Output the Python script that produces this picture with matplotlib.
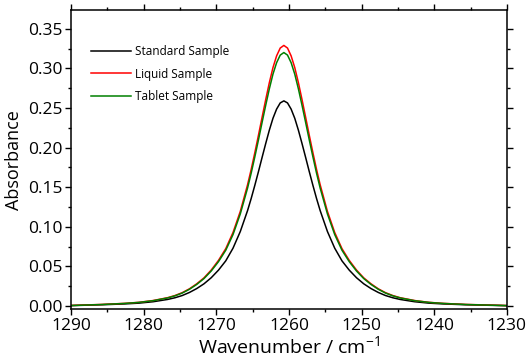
import numpy as np
import matplotlib
matplotlib.use('Agg')
import matplotlib.pyplot as plt
from matplotlib.ticker import MultipleLocator, FormatStrFormatter

plt.rcParams['font.family'] = ['Open Sans', 'DejaVu Sans']
plt.rcParams['mathtext.default'] = 'regular'

# wavenumber grid (cm^-1)
wavenumber = [1290.0, 1285.7, 1282.7, 1280.7, 1278.7, 1276.7, 1275.7, 1274.7,
              1273.7, 1272.7, 1271.7, 1270.7, 1269.7, 1268.7, 1267.7, 1266.7,
              1265.7, 1265.2, 1264.7, 1264.2, 1263.7, 1263.2, 1262.7, 1262.2,
              1261.7, 1261.2, 1260.7, 1260.2, 1259.7, 1259.2, 1258.7, 1258.2,
              1257.7, 1257.2, 1256.7, 1256.2, 1255.7, 1254.7, 1253.7, 1252.7,
              1251.7, 1250.7, 1249.7, 1248.7, 1247.7, 1246.7, 1245.7, 1244.7,
              1242.7, 1240.7, 1238.7, 1235.7, 1230.0]

# absorbance, same points
standard = [0.0005, 0.0016, 0.0026, 0.0036, 0.0054, 0.0083, 0.0104, 0.0132,
            0.0171, 0.0220, 0.0280, 0.0357, 0.0453, 0.0570, 0.0730, 0.0940,
            0.1204, 0.1357, 0.1523, 0.1696, 0.1875, 0.2051, 0.2220, 0.2370,
            0.2486, 0.2564, 0.2590, 0.2564, 0.2486, 0.2370, 0.2220, 0.2051,
            0.1875, 0.1696, 0.1523, 0.1357, 0.1204, 0.0940, 0.0730, 0.0570,
            0.0453, 0.0357, 0.0280, 0.0220, 0.0171, 0.0132, 0.0104, 0.0083,
            0.0054, 0.0036, 0.0026, 0.0016, 0.0004]

liquid = [0.0007, 0.0020, 0.0033, 0.0046, 0.0069, 0.0105, 0.0132, 0.0168,
          0.0217, 0.0280, 0.0355, 0.0454, 0.0576, 0.0724, 0.0928, 0.1194,
          0.1530, 0.1724, 0.1935, 0.2155, 0.2382, 0.2606, 0.2820, 0.3010,
          0.3158, 0.3257, 0.3290, 0.3257, 0.3158, 0.3010, 0.2820, 0.2606,
          0.2382, 0.2155, 0.1935, 0.1724, 0.1530, 0.1194, 0.0928, 0.0724,
          0.0576, 0.0454, 0.0355, 0.0280, 0.0217, 0.0168, 0.0132, 0.0105,
          0.0069, 0.0046, 0.0033, 0.0020, 0.0006]

tablet = [0.0006, 0.0019, 0.0032, 0.0045, 0.0067, 0.0102, 0.0128, 0.0163,
          0.0211, 0.0272, 0.0346, 0.0442, 0.0560, 0.0704, 0.0902, 0.1162,
          0.1488, 0.1677, 0.1882, 0.2096, 0.2317, 0.2534, 0.2742, 0.2928,
          0.3072, 0.3168, 0.3200, 0.3168, 0.3072, 0.2928, 0.2742, 0.2534,
          0.2317, 0.2096, 0.1882, 0.1677, 0.1488, 0.1162, 0.0902, 0.0704,
          0.0560, 0.0442, 0.0346, 0.0272, 0.0211, 0.0163, 0.0128, 0.0102,
          0.0067, 0.0045, 0.0032, 0.0019, 0.0005]

labels = ['Standard Sample', 'Liquid Sample', 'Tablet Sample']
colors = ['black', 'red', '#008000']

fig = plt.figure(figsize=(5.28, 3.58), dpi=100)
ax = fig.add_axes([0.1345, 0.1355, 0.8255, 0.8365])

for y, lab, c in zip([standard, liquid, tablet], labels, colors):
    ax.plot(wavenumber, y, color=c, lw=1.1, label=lab)

ax.set_xlim(1290, 1230)
ax.set_ylim(-0.0044, 0.3737)
ax.xaxis.set_major_locator(MultipleLocator(10))
ax.xaxis.set_minor_locator(MultipleLocator(5))
ax.yaxis.set_major_locator(MultipleLocator(0.05))
ax.yaxis.set_minor_locator(MultipleLocator(0.025))
ax.yaxis.set_major_formatter(FormatStrFormatter('%.2f'))

ax.tick_params(which='both', direction='out', top=True, right=True,
               labeltop=False, labelright=False, width=1.0, labelsize=12.5,
               pad=2)
ax.tick_params(which='major', length=4)
ax.tick_params(which='minor', length=2.5)
for s in ax.spines.values():
    s.set_linewidth(1.1)

ax.set_xlabel('Wavenumber / cm$^{-1}$', fontsize=14, labelpad=1)
ax.set_ylabel('Absorbance', fontsize=13, labelpad=4)

ax.legend(loc='upper left', bbox_to_anchor=(0.035, 0.898), frameon=False,
          fontsize=8.5, handlelength=3.4, handletextpad=0.35, labelspacing=0.78,
          borderaxespad=0)

fig.savefig('out.png', dpi=100)
